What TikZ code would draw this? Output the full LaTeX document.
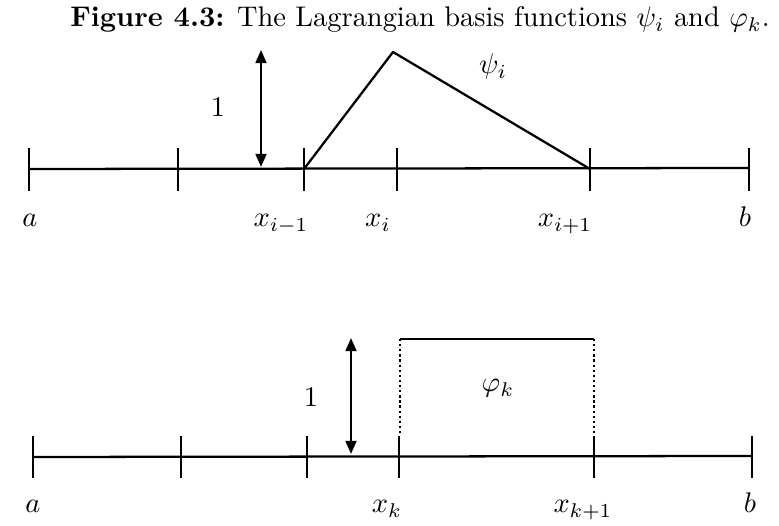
\documentclass[tikz,border=0pt]{standalone}
\usetikzlibrary{arrows.meta}
\begin{document}
\begin{tikzpicture}[line join=round,>={Triangle[length=4.6pt,width=3.8pt]},x=.352pt,y=-.352pt,line width=.8pt]
            \useasboundingbox (0,0) rectangle (779,526);
            \node[anchor=base] (title) at (420,27) {\textbf{Figure 4.3:} The Lagrangian basis functions $\psi_i$ and $\varphi_k$.};
            % upper graph: psi_i
            \draw (29,169)--(749,168);
            \foreach \x in {29,178,304,397,590,749}
            \draw (\x,148)--(\x,191);
            \draw (304,169)--(393,52)--(590,169);
            \draw[<->] (261,50)--(261,167);
            \node[anchor=base] (one1) at (218,117) {$1$};
            \node[anchor=base] (psi) at (493,74) {$\psi_i$};
            \foreach \x/\nx in {30/a,281/x_{i-1},378/x_i,565/x_{i+1},745/b}
            \node[anchor=base] at (\x,227) {$\nx$};
            % lower graph: phi_k
            \draw (33,457)--(752,456);
            \foreach \x in {33,181,307,399,594,752}
            \draw (\x,436)--(\x,478);
            \draw (400,339)--(594,339);
            \draw[densely dotted,line width=.8pt] (400,339)--(400,436);
            \draw[densely dotted,line width=.8pt] (594,339)--(594,436);
            \draw[<->] (351,338)--(351,454);
            \node[anchor=base] (one2) at (311,407) {$1$};
            \node[anchor=base] (phi) at (498,392) {$\varphi_k$};
            \foreach \x/\nx in {33/a,387/x_k,583/x_{k+1},750/b}
            \node[anchor=base] at (\x,513) {$\nx$};
        \end{tikzpicture}
\end{document}
